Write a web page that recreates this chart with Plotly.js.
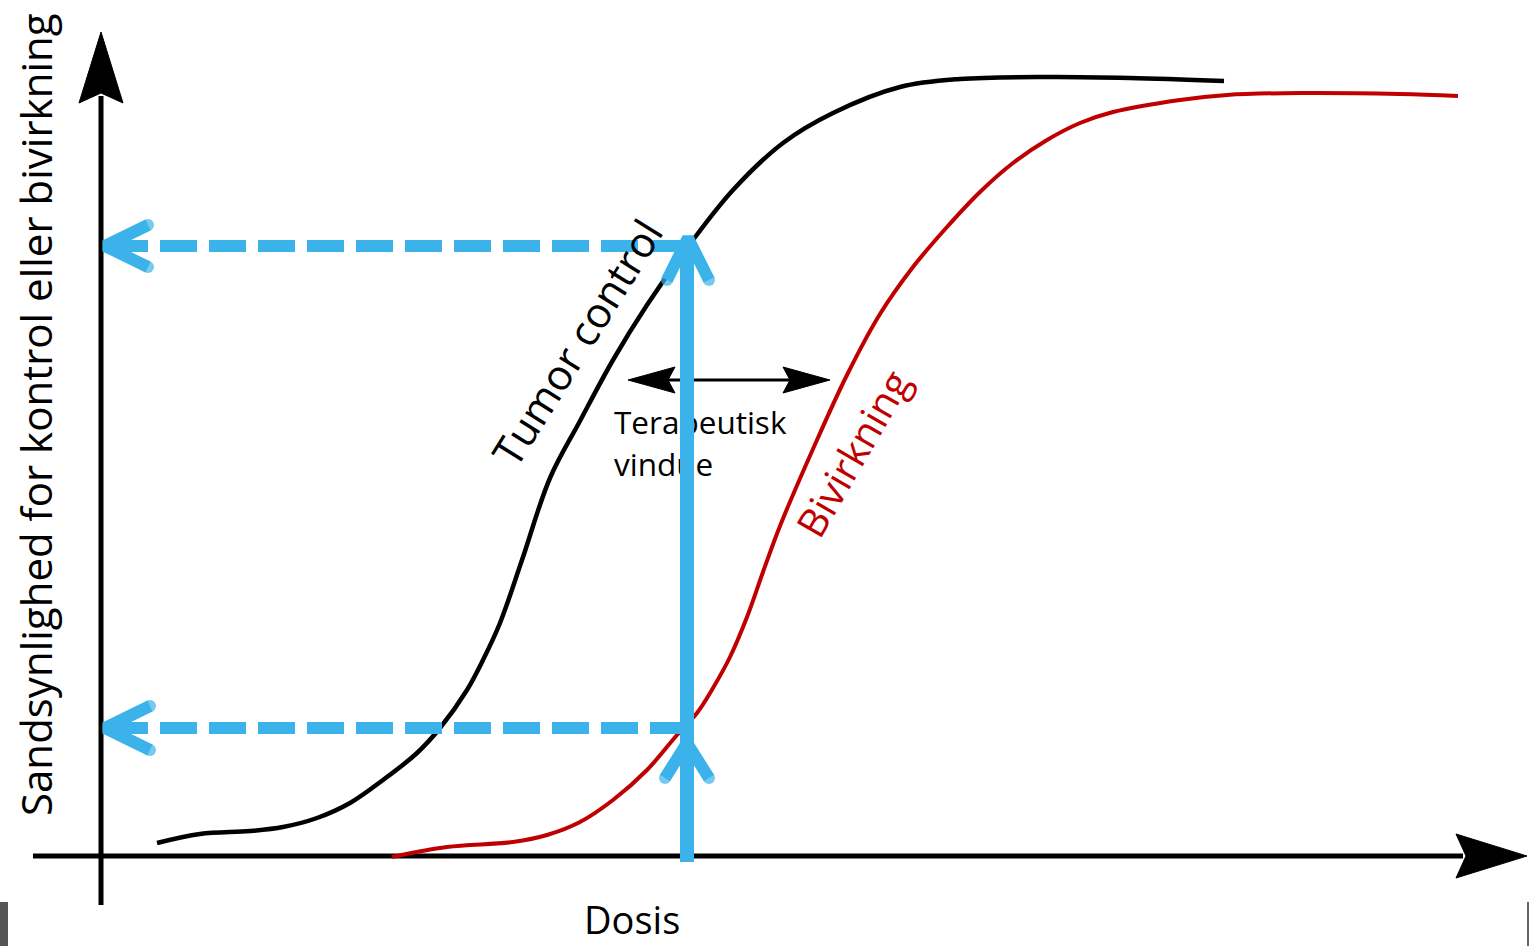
<!DOCTYPE html>
<html>
<head>
<meta charset="utf-8">
<script src="https://cdn.plot.ly/plotly-3.0.1.min.js"></script>
<style>html,body{margin:0;padding:0;background:#fff;}#chart{width:1529px;height:946px;}</style>
</head>
<body>
<div id="chart"></div>
<script>
// ---- data (dose / probability in chart units, origin at the axis crossing) ----
const tumorDose = [56, 99, 149, 182, 216, 249, 282, 316, 339, 366, 382, 399, 421, 449, 479, 512, 546, 589, 632, 682, 732, 799, 859, 949, 1029, 1123];
const tumorProb = [13, 22, 25, 29, 38, 53, 76, 103, 128, 166, 196, 233, 296, 378, 435, 496, 551, 612, 666, 713, 743, 769, 777, 779, 778, 775];
const sideDose = [291, 346, 412, 446, 479, 512, 546, 576, 596, 612, 629, 646, 662, 679, 712, 746, 779, 812, 846, 879, 912, 946, 979, 1012, 1079, 1126, 1199, 1299, 1357];
const sideProb = [-1, 9, 14, 21, 34, 56, 86, 121, 143, 168, 199, 239, 284, 330, 407, 481, 542, 589, 629, 664, 693, 716, 733, 744, 756, 761, 763, 762, 760];
const chosenDose = 586;          // the marked dose
const tumorProbAtDose = 610;
const sideProbAtDose = 128;
const windowLeft = 527, windowRight = 729, windowLevel = 476; // therapeutic window arrow
const labels = {
  x: 'Dosis',
  y: 'Sandsynlighed for kontrol eller bivirkning',
  tumor: 'Tumor control',
  side: 'Bivirkning',
  window: ['Terapeutisk', 'vindue']
};

// ---- helpers ----
const BLUE = '#3cb2eb', RED = '#c00000', FONT = 'Open Sans, Noto Sans, sans-serif';
function headPoly(tx, ty, dx, dy, len, half, notch) {
  const px = -dy, py = dx;
  const bx = tx - dx * len, by = ty - dy * len;
  const nx = tx - dx * (len - notch), ny = ty - dy * (len - notch);
  return {
    x: [tx, bx + px * half, nx, bx - px * half, tx],
    y: [ty, by + py * half, ny, by - py * half, ty]
  };
}
function polyTrace(p) {
  return {x: p.x, y: p.y, mode: 'lines', fill: 'toself', fillcolor: '#000',
          line: {color: '#000', width: 1}, hoverinfo: 'skip', showlegend: false};
}
function chevron(tx, ty, dx, dy, len, half) {
  const px = -dy, py = dx;
  const bx = tx - dx * len, by = ty - dy * len;
  return {
    x: [bx + px * half, tx, bx - px * half],
    y: [by + py * half, ty, by - py * half],
    mode: 'lines+markers',
    line: {color: BLUE, width: 12},
    marker: {color: BLUE, size: [12, 0, 12], line: {width: 0}},
    hoverinfo: 'skip', showlegend: false
  };
}

const xMin = -101, xMax = 1428, yMin = -90, yMax = 856;
const traces = [];
// axes
traces.push({x: [0, 0], y: [-49, 760], mode: 'lines', line: {color: '#000', width: 5}, hoverinfo: 'skip', showlegend: false});
traces.push(polyTrace(headPoly(0, 824, 0, 1, 71, 22, 10)));
traces.push({x: [-68, 1362], y: [0, 0], mode: 'lines', line: {color: '#000', width: 5}, hoverinfo: 'skip', showlegend: false});
traces.push(polyTrace(headPoly(1426, 0, 1, 0, 71, 22, 10)));
// curves
traces.push({x: tumorDose, y: tumorProb, mode: 'lines', line: {color: '#000', width: 4.5, shape: 'spline', smoothing: 1}, hoverinfo: 'skip', showlegend: false});
traces.push({x: sideDose, y: sideProb, mode: 'lines', line: {color: RED, width: 4, shape: 'spline', smoothing: 1}, hoverinfo: 'skip', showlegend: false});
// therapeutic window double arrow
traces.push({x: [windowLeft + 40, windowRight - 40], y: [windowLevel, windowLevel], mode: 'lines', line: {color: '#000', width: 3}, hoverinfo: 'skip', showlegend: false});
traces.push(polyTrace(headPoly(windowLeft, windowLevel, -1, 0, 47, 13, 7)));
traces.push(polyTrace(headPoly(windowRight, windowLevel, 1, 0, 47, 13, 7)));
traces.push({x: [windowLeft - 14, windowLeft - 14], y: [windowLevel - 46, windowLevel - 88], text: labels.window,
  mode: 'text', textposition: 'middle right', textfont: {family: FONT, size: 31.5, color: '#000'}, hoverinfo: 'skip', showlegend: false});
// blue guides
traces.push({x: [chosenDose, 4], y: [tumorProbAtDose, tumorProbAtDose], mode: 'lines', line: {color: BLUE, width: 12, dash: '37px,12px'}, hoverinfo: 'skip', showlegend: false});
traces.push({x: [chosenDose, 4], y: [sideProbAtDose, sideProbAtDose], mode: 'lines', line: {color: BLUE, width: 12, dash: '37px,12px'}, hoverinfo: 'skip', showlegend: false});
traces.push(chevron(4, tumorProbAtDose, -1, 0, 43, 21));
traces.push(chevron(4, sideProbAtDose, -1, 0, 45, 22));
traces.push({x: [chosenDose, chosenDose], y: [-6, tumorProbAtDose], mode: 'lines', line: {color: BLUE, width: 14}, hoverinfo: 'skip', showlegend: false});
traces.push(chevron(chosenDose + 1, tumorProbAtDose + 8, 0, 1, 42, 21));
traces.push(chevron(chosenDose, sideProbAtDose - 15, 0, 1, 35, 22));

const layout = {
  width: 1529, height: 946,
  margin: {l: 0, r: 0, t: 0, b: 0, pad: 0},
  paper_bgcolor: '#fff', plot_bgcolor: '#fff',
  showlegend: false,
  xaxis: {range: [xMin, xMax], visible: false, fixedrange: true},
  yaxis: {range: [yMin, yMax], visible: false, fixedrange: true},
  annotations: [
    {x: -66, y: 441, xref: 'x', yref: 'y', text: labels.y, textangle: -90, showarrow: false,
     font: {family: FONT, size: 42, color: '#000'}},
    {x: 531, y: -63, xref: 'x', yref: 'y', text: labels.x, showarrow: false,
     font: {family: FONT, size: 38, color: '#000'}},
    {x: 475, y: 514, xref: 'x', yref: 'y', text: labels.tumor, textangle: -58, showarrow: false,
     font: {family: FONT, size: 42, color: '#000'}},
    {x: 751, y: 403, xref: 'x', yref: 'y', text: labels.side, textangle: -60, showarrow: false,
     font: {family: FONT, size: 40, color: RED}}
  ],
  shapes: [
    {type: 'rect', xref: 'paper', yref: 'paper', x0: 0, x1: 8 / 1529, y0: 0, y1: 44 / 946, fillcolor: '#555', line: {width: 0}},
    {type: 'rect', xref: 'paper', yref: 'paper', x0: 1527 / 1529, x1: 1, y0: 0, y1: 44 / 946, fillcolor: '#666', line: {width: 0}}
  ]
};
Plotly.newPlot('chart', traces, layout, {staticPlot: true, displayModeBar: false});
</script>
</body>
</html>
